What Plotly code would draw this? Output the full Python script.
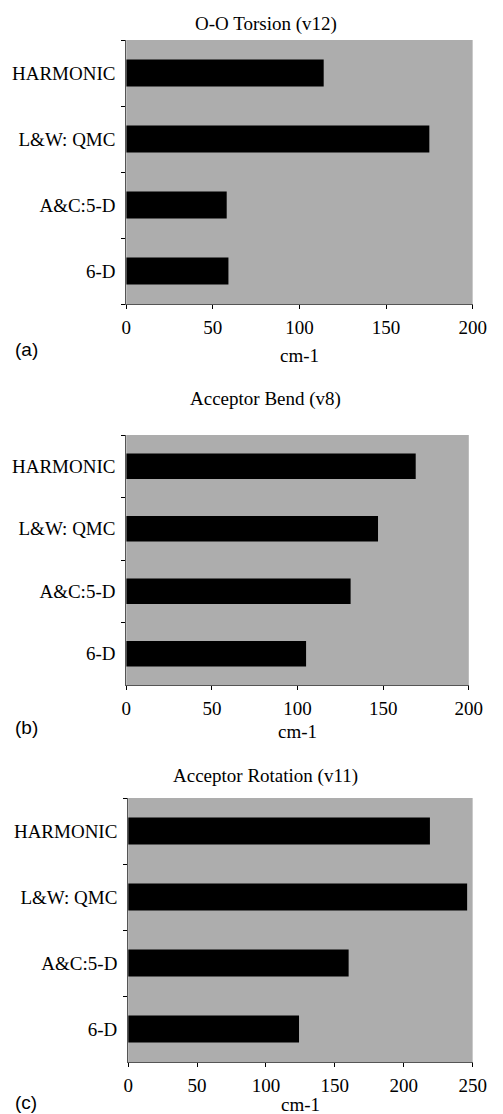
import plotly.graph_objects as go

categories = ["HARMONIC", "L&W: QMC", "A&C:5-D", "6-D"]
torsion_v12 = [114, 175, 58, 59]
bend_v8 = [169, 147, 131, 105]
rotation_v11 = [219, 246, 160, 124]

titles = ["O-O Torsion (v12)", "Acceptor Bend (v8)", "Acceptor Rotation (v11)"]
panel_tags = ["(a)", "(b)", "(c)"]
x_ranges = [[0, 200], [0, 200], [0, 250]]
x_tickvals = [[0, 50, 100, 150, 200], [0, 50, 100, 150, 200], [0, 50, 100, 150, 200, 250]]
series = [torsion_v12, bend_v8, rotation_v11]

W, H = 503, 1114
# pixel layout of each panel: (left, right, top, bottom)
boxes = [(126, 486, 40, 304), (126, 482, 435, 685), (128, 486, 798, 1062)]
title_y = [24, 399, 776]
xlabel_y = [355, 731, 1104]
tag_y = [350, 727, 1102]

SERIF = "Liberation Serif"
SANS = "Liberation Sans"
FS = 19

fig = go.Figure()
layout = dict(
    width=W, height=H,
    margin=dict(l=0, r=0, t=0, b=0),
    paper_bgcolor="white",
    plot_bgcolor="#adadad",
    showlegend=False,
    font=dict(family=SERIF, size=FS, color="black"),
    annotations=[],
)

for i in range(3):
    xa = "x" if i == 0 else f"x{i+1}"
    ya = "y" if i == 0 else f"y{i+1}"
    l, r, t, b = boxes[i]
    fig.add_trace(go.Bar(
        x=series[i], y=categories, orientation="h",
        marker=dict(color="black", line=dict(width=0)),
        width=0.41,
        xaxis=xa, yaxis=ya,
    ))
    xkey = "xaxis" if i == 0 else f"xaxis{i+1}"
    ykey = "yaxis" if i == 0 else f"yaxis{i+1}"
    layout[xkey] = dict(
        domain=[l / W, r / W], anchor=ya, range=x_ranges[i],
        tickvals=x_tickvals[i], ticks="outside", ticklen=4, tickcolor="black",
        showgrid=False, zeroline=False, showline=True, linecolor="#555555", linewidth=1,
        ticklabelstandoff=2,
        tickfont=dict(family=SERIF, size=FS),
    )
    layout[ykey] = dict(
        domain=[1 - b / H, 1 - t / H], anchor=xa,
        categoryorder="array", categoryarray=categories[::-1],
        ticks="outside", ticklen=4, tickson="boundaries", tickcolor="black",
        showgrid=False, zeroline=False, showline=True, linecolor="#555555", linewidth=1,
        ticklabelstandoff=6,
        tickfont=dict(family=SERIF, size=FS),
    )
    layout["annotations"] += [
        dict(text=titles[i], x=271 / W, y=1 - title_y[i] / H, xref="paper", yref="paper",
             xanchor="center", yanchor="middle", showarrow=False,
             font=dict(family=SERIF, size=FS)),
        dict(text="cm-1", x=(l + r) / 2 / W, y=1 - xlabel_y[i] / H, xref="paper", yref="paper",
             xanchor="center", yanchor="middle", showarrow=False,
             font=dict(family=SERIF, size=FS)),
        dict(text=panel_tags[i], x=22 / W, y=1 - tag_y[i] / H, xref="paper", yref="paper",
             xanchor="center", yanchor="middle", showarrow=False,
             font=dict(family=SANS, size=FS)),
    ]

fig.update_layout(**layout)
fig.write_html("out.html")
